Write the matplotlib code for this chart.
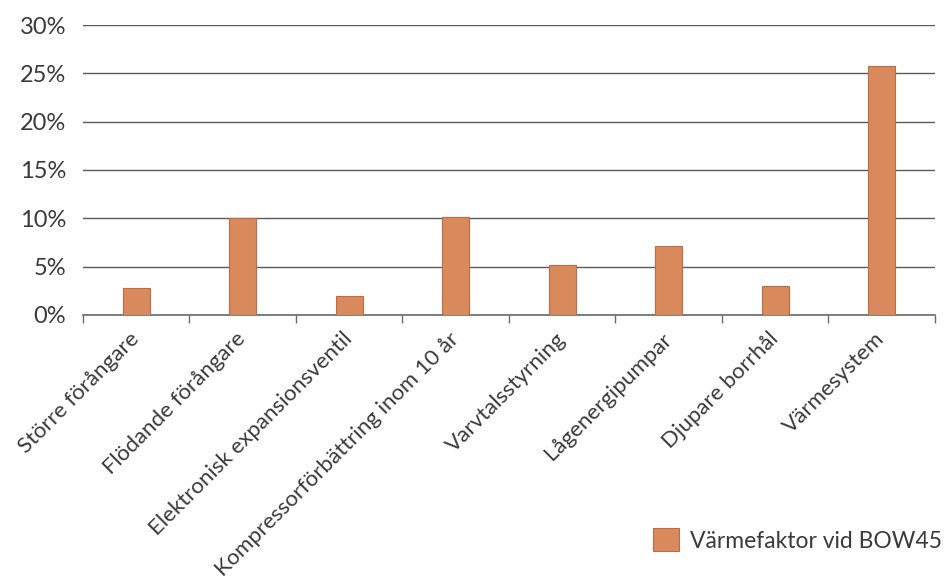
import numpy as np
import matplotlib.pyplot as plt
from matplotlib.ticker import FuncFormatter

plt.rcParams['font.family'] = ['Lato', 'DejaVu Sans']

categories = [
    "Större förångare",
    "Flödande förångare",
    "Elektronisk expansionsventil",
    "Kompressorförbättring inom 10 år",
    "Varvtalsstyrning",
    "Lågenergipumpar",
    "Djupare borrhål",
    "Värmesystem",
]
values = [2.8, 10.0, 2.0, 10.1, 5.2, 7.1, 3.0, 25.8]
series_name = "Värmefaktor vid BOW45"
yticks = [0, 5, 10, 15, 20, 25, 30]

text_color = "#3a3a3a"
bar_color = "#d98a5c"

fig = plt.figure(figsize=(9.44, 5.86), dpi=100)
ax = fig.add_axes([0.0879, 0.4625, 0.9025, 0.4948])

x = np.arange(len(categories))
ax.bar(x, values, width=0.25, color=bar_color, edgecolor="#c46a42",
       linewidth=0.8, zorder=3, label=series_name)

ax.set_xlim(-0.5, len(categories) - 0.5)
ax.set_ylim(0, 30)
ax.set_yticks(yticks)
ax.yaxis.set_major_formatter(FuncFormatter(lambda v, p: f"{v:.0f}%"))
ax.yaxis.grid(True, color="#5a5a5a", linewidth=1.0, zorder=0)

for side in ["left", "right", "top"]:
    ax.spines[side].set_visible(False)
ax.spines["bottom"].set_color("#6a6a6a")
ax.spines["bottom"].set_linewidth(1.2)

ax.tick_params(axis="y", length=0, pad=12, labelsize=17, labelcolor=text_color)

# category labels at centres, tick marks between categories
ax.set_xticks(x)
ax.set_xticklabels(categories, rotation=45, ha="right", va="center",
                   rotation_mode="anchor", fontsize=16, color=text_color)
ax.tick_params(axis="x", which="major", length=0, pad=15)
ax.set_xticks(np.arange(len(categories) + 1) - 0.5, minor=True)
ax.tick_params(axis="x", which="minor", length=6, color="#6a6a6a", width=1)

fig.legend(loc="center left", bbox_to_anchor=(0.6917, 0.0785), frameon=False,
           fontsize=16.5, handlelength=1.15, handleheight=1.15, handletextpad=0.45,
           borderpad=0, borderaxespad=0, labelcolor=text_color)

fig.savefig("out.png", dpi=100)
